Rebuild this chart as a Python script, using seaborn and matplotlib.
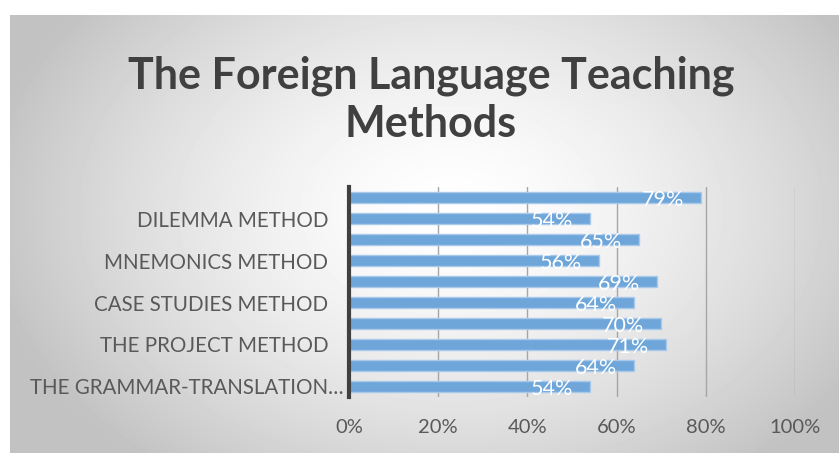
import numpy as np
import pandas as pd
import matplotlib
matplotlib.use("Agg")
import matplotlib.pyplot as plt
import matplotlib.ticker as mticker
import matplotlib.transforms as mtransforms
import seaborn as sns

# ── Data ───────────────────────────────────────────────────────────────────────
# top-to-bottom order as drawn; only every other category name is shown on the axis
methods = [
    "Method 10",
    "DILEMMA METHOD",
    "Method 8",
    "MNEMONICS METHOD",
    "Method 6",
    "CASE STUDIES METHOD",
    "Method 4",
    "THE PROJECT METHOD",
    "Method 2",
    "THE GRAMMAR-TRANSLATION…",
]
shown = [False, True, False, True, False, True, False, True, False, True]
shares = [79, 54, 65, 56, 69, 64, 70, 71, 64, 54]
x_ticks = [0, 20, 40, 60, 80, 100]
title = "The Foreign Language Teaching\nMethods"

# ── Style ──────────────────────────────────────────────────────────────────────
BAR_COLOR = "#6fa6da"
BAR_EDGE = "#a9c9ea"
TEXT_COLOR = "#595959"
TITLE_COLOR = "#404040"
GRID_COLOR = "#a6a6a6"

sns.set_theme(style="white")
plt.rcParams["font.family"] = ["Lato", "DejaVu Sans"]

W, H = 839, 453
fig = plt.figure(figsize=(W / 100, H / 100), dpi=100)
fig.patch.set_facecolor("white")

# radial grey-to-white chart area background (Excel style)
bg = fig.add_axes([0, 0, 1, 1], zorder=-10)
x0, y0 = 10, 15
gx, gy = np.meshgrid(np.arange(x0, W), np.arange(y0, H))
r = np.sqrt(((gx - 450) / 470) ** 2 + ((gy - 210) / 330) ** 2)
r = np.clip(r, 0, 1)
shade = 1.0 - 0.24 * r ** 1.5
bg.imshow(shade, cmap="gray", vmin=0, vmax=1, extent=[x0, W, H, y0], aspect="auto")
bg.set_xlim(0, W)
bg.set_ylim(H, 0)
bg.axis("off")

ax = fig.add_axes([349 / W, 1 - 397 / H, (795 - 349) / W, (397 - 187) / H])
ax.set_facecolor("none")

df = pd.DataFrame({"method": methods, "share": shares})
sns.barplot(data=df, x="share", y="method", orient="h", color=BAR_COLOR,
            saturation=1, width=0.57, edgecolor=BAR_EDGE, linewidth=1, ax=ax, zorder=3)

for i, v in enumerate(shares):
    ax.text(v - 3.8, i + 0.1, f"{v}%", ha="right", va="center",
            fontsize=15.5, color="white", zorder=4)

ax.set_xlim(0, 100)
ax.set_ylim(len(methods) - 0.5, -0.5)
ax.set_xticks(x_ticks)
ax.xaxis.set_major_formatter(mticker.FuncFormatter(lambda x, _: f"{int(x)}%"))
pos = [i for i, s in enumerate(shown) if s]
ax.set_yticks(pos)
ax.set_yticklabels([methods[i] for i in pos])
ax.tick_params(axis="x", length=0, pad=16, labelsize=14.5, labelcolor=TEXT_COLOR)
ax.tick_params(axis="y", length=0, pad=15, labelsize=14.8, labelcolor=TEXT_COLOR)
ax.set_xlabel("")
ax.set_ylabel("")

# the truncated label sits a little further right, as in the original
last = ax.get_yticklabels()[-1]
last.set_transform(last.get_transform() + mtransforms.ScaledTranslation(15 / 100, 0, fig.dpi_scale_trans))

ax.grid(axis="x", color=GRID_COLOR, lw=1)
ax.set_axisbelow(True)
for side in ["top", "right", "bottom"]:
    ax.spines[side].set_visible(False)
ax.spines["left"].set_color("#404040")
ax.spines["left"].set_linewidth(3)
ax.spines["left"].set_zorder(5)

fig.text(431 / W, 1 - 100 / H, title, ha="center", va="center", fontsize=31,
         fontweight="bold", color=TITLE_COLOR, linespacing=1.25)

fig.savefig("out.png", dpi=100)
